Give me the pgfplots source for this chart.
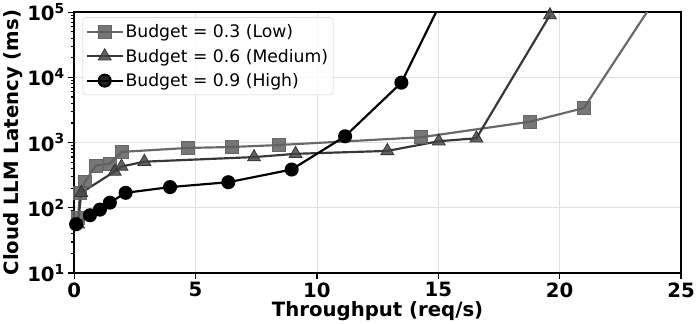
\documentclass[border=0pt]{standalone}
\usepackage{fontspec}
\setmainfont{DejaVu Sans}
\usepackage{pgfplots}
\pgfplotsset{compat=1.18}

\definecolor{lowc}{RGB}{105,105,105}
\definecolor{lowm}{RGB}{95,95,95}
\definecolor{medc}{RGB}{55,55,55}
\definecolor{medm}{RGB}{70,70,70}

\begin{document}
\begin{tikzpicture}
\begin{axis}[
    scale only axis,
    width=614bp, height=264bp,
    ymode=log,
    xmin=0, xmax=25,
    ymin=10, ymax=1e5,
    xtick={0,5,10,15,20,25},
    ytick={10,100,1000,10000,100000},
    yticklabels={10\textsuperscript{1},10\textsuperscript{2},10\textsuperscript{3},10\textsuperscript{4},10\textsuperscript{5}},
    /pgf/number format/assume math mode=true,
    tick label style={font=\fontsize{20}{24}\selectfont\bfseries},
    label style={font=\fontsize{20}{24}\selectfont\bfseries},
    xlabel={Throughput (req/s)},
    ylabel={Cloud LLM Latency (ms)},
    xlabel style={yshift=3bp},
    ylabel style={yshift=-2bp},
    axis line style={line width=2.5bp},
    tick align=outside,
    xtick pos=left, ytick pos=left,
    major tick length=6bp, minor tick length=3.5bp,
    every tick/.style={black, line width=1.2bp},
    grid=major,
    major grid style={black!12, line width=0.8bp},
    legend cell align=left,
    legend style={at={(0.014,0.98)}, anchor=north west,
        font=\fontsize{17.5}{20}\selectfont,
        draw=black!20, rounded corners=3bp, fill=white,
        fill opacity=0.85, text opacity=1,
        inner xsep=3bp, inner ysep=5bp,
        row sep=6bp},
    legend image code/.code={
        \draw[mark repeat=2,mark phase=2,#1] plot coordinates {(0bp,0bp) (18bp,0bp) (36bp,0bp)};
    },
]
\addplot[color=lowc, line width=2.2bp, mark=square*, mark size=6.5bp,
    mark options={fill=lowm, fill opacity=0.85, draw=black!60, line width=0.8bp}]
    coordinates {(0.16,70)(0.24,170)(0.45,255)(0.9,445)(1.47,476)(1.95,720)
    (4.68,828)(6.51,857)(8.43,918)(14.29,1208)(18.77,2090)(21.0,3390)};

\addplot[color=medc, line width=2.2bp, mark=triangle*, mark size=7.5bp,
    mark options={fill=medm, fill opacity=0.85, draw=black!80, line width=0.8bp}]
    coordinates {(0.16,56)(0.29,170)(1.67,361)(1.95,430)(2.89,510)(7.41,600)
    (9.12,673)(12.9,746)(15.02,1050)(16.57,1166)(19.6,90000)};

\addplot[color=black, line width=2.2bp, mark=*, mark size=6bp,
    mark options={fill=black, draw=black}]
    coordinates {(0.08,56)(0.65,77)(1.06,94)(1.47,120)(2.12,170)(3.95,208)
    (6.35,247)(8.96,387)(11.16,1250)(13.48,8300)};

% last points lie above the plotted range: only their segments show
\addplot[color=lowc, line width=2.2bp, forget plot] coordinates {(21.0,3390)(24.0,170000)};
\addplot[color=black, line width=2.2bp, forget plot] coordinates {(13.48,8300)(15.5,280000)};

\legend{Budget = 0.3 (Low),Budget = 0.6 (Medium),Budget = 0.9 (High)}
\end{axis}
\end{tikzpicture}
\end{document}
